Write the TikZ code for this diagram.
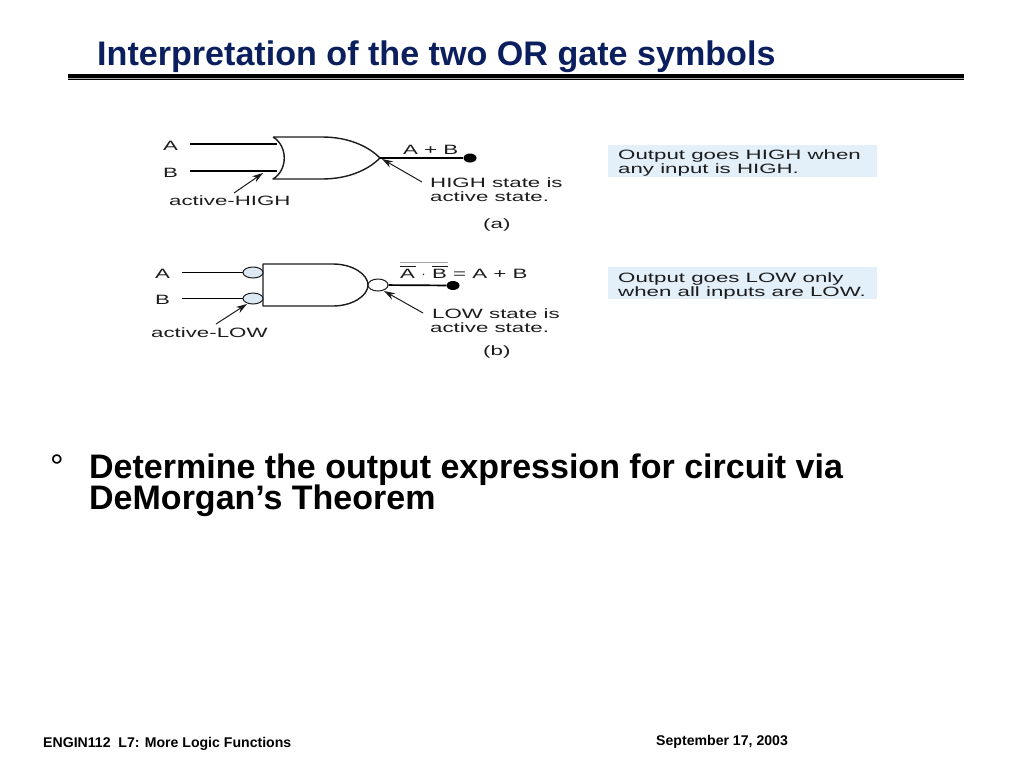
\documentclass[tikz,border=0pt]{standalone}
\usepackage{fontspec}
\setmainfont{Liberation Sans}
\newfontfamily\widefont[FakeStretch=1.65]{Liberation Sans}
\usetikzlibrary{arrows.meta,shapes.geometric}
\definecolor{titleblue}{HTML}{0B1F5E}
\definecolor{boxblue}{HTML}{E3F0FA}
\definecolor{bubbleblue}{HTML}{DCE9F3}
\definecolor{inkgrey}{HTML}{1C1C1C}
\tikzset{
  x=1pt,y=-1pt,
  titletext/.style={anchor=base west,inner sep=0pt,text=titleblue,font=\fontsize{34.1}{34.1}\selectfont\bfseries},
  bodytext/.style={anchor=base west,inner sep=0pt,text=black,font=\fontsize{34}{34}\selectfont\bfseries},
  foottext/.style={anchor=base west,inner sep=0pt,text=black,font=\fontsize{14.1}{14.1}\selectfont\bfseries},
  gatelabel/.style={anchor=base west,inner sep=0pt,text=inkgrey,font=\widefont\fontsize{13.5}{13.5}\selectfont},
  gateshape/.style={draw=inkgrey,line width=1.4pt,line join=round},
  wire/.style={draw=black,line width=1.7pt},
  pointer/.style={draw=inkgrey,line width=1pt,-{Stealth[length=11pt,width=7pt]}},
  bubblein/.style={ellipse,draw=inkgrey,line width=1pt,fill=bubbleblue,minimum width=20pt,minimum height=11pt,inner sep=0pt},
  bubbleout/.style={ellipse,draw=inkgrey,line width=1pt,fill=white,minimum width=20pt,minimum height=12pt,inner sep=0pt},
  enddot/.style={ellipse,fill=black,minimum width=13pt,minimum height=9pt,inner sep=0pt},
  notebox/.style={anchor=north west,fill=boxblue,minimum width=269pt,minimum height=32pt,inner sep=0pt},
}
\begin{document}
\begin{tikzpicture}
\useasboundingbox[fill=white] (0,0) rectangle (1024,768);
% title
\node[titletext] (title) at (97,65) {Interpretation of the two OR gate symbols};
\fill[black] (68,73.5) rectangle (964,77.5);
\fill[gray!70] (68,77.5) rectangle (964,78.5);
\fill[black] (68,78.5) rectangle (964,80);
% gate (a)
\coordinate (orA) at (277,144);
\coordinate (orB) at (277,171);
\coordinate (orTip) at (380,158);
\draw[gateshape] (273,137) -- (322,137) .. controls (348,137) and (368,146) .. (orTip)
  .. controls (368,170) and (348,179) .. (322,179) -- (273,179)
  .. controls (288,170) and (288,146) .. (273,137);
\node[gatelabel] (a1) at (163,150) {A};
\node[gatelabel] (b1) at (163,177) {B};
\coordinate (a1w) at (190,144);
\coordinate (b1w) at (190,171);
\draw[wire] (a1w) -- (orA);
\draw[wire] (b1w) -- (orB);
\node[enddot] (dot1) at (470,158) {};
\draw[wire] (orTip) -- (dot1);
\node[gatelabel] (sum1) at (403,154) {A + B};
\node[gatelabel] (hi1) at (430,187) {HIGH state is};
\node[gatelabel] (hi2) at (430,201) {active state.};
\node[gatelabel] (capa) at (483,228) {(a)};
\node[gatelabel] (acth) at (169,205) {active-HIGH};
\coordinate (pa1) at (234,193);
\coordinate (pa2) at (263,173);
\coordinate (pa3) at (422,182);
\coordinate (pa4) at (382,159);
\draw[pointer] (pa1) -- (pa2);
\draw[pointer] (pa3) -- (pa4);
% gate (b)
\draw[gateshape] (263,264) -- (333,264) .. controls (352,264) and (368,274) .. (368,285)
  .. controls (368,296) and (352,306) .. (333,306) -- (263,306) -- cycle;
\node[bubblein] (inA) at (253,272.5) {};
\node[bubblein] (inB) at (253,298.5) {};
\node[bubbleout] (out) at (378,285) {};
\node[gatelabel] (a2) at (155,278) {A};
\node[gatelabel] (b2) at (155,304) {B};
\coordinate (a2w) at (182,272.5);
\coordinate (b2w) at (182,298.5);
\draw[wire] (a2w) -- (inA);
\draw[wire,line width=1.2pt] (b2w) -- (inB);
\node[enddot] (dot2) at (453,285.5) {};
\draw[wire] (out) -- (dot2);
\node[gatelabel] (eq) at (400,278) {A\makebox[17pt]{$\cdot$}B = A + B};
\draw[gray!70,line width=0.9pt] (400,262) -- (448,262);
\draw[inkgrey,line width=0.8pt] (400,266.5) -- (416,266.5);
\draw[inkgrey,line width=0.8pt] (432,266.5) -- (448,266.5);
\node[gatelabel] (lo1) at (432,318) {LOW state is};
\node[gatelabel] (lo2) at (430,332) {active state.};
\node[gatelabel] (capb) at (483,355) {(b)};
\node[gatelabel] (actl) at (151,337) {active-LOW};
\coordinate (pb1) at (216,324);
\coordinate (pb2) at (247,304);
\coordinate (pb3) at (423,313);
\coordinate (pb4) at (384,291);
\draw[pointer] (pb1) -- (pb2);
\draw[pointer] (pb3) -- (pb4);
% note boxes
\node[notebox] (box1) at (608,145) {};
\node[notebox] (box2) at (608,267) {};
\node[gatelabel] (n1) at (618,159) {Output goes HIGH when};
\node[gatelabel] (n2) at (618,173) {any input is HIGH.};
\node[gatelabel] (n3) at (618,282) {Output goes LOW only};
\node[gatelabel] (n4) at (618,296) {when all inputs are LOW.};
% body
\node[anchor=base west,inner sep=0pt,font=\fontsize{34}{34}\selectfont] (bullet) at (50,478) {°};
\node[bodytext] (l1) at (89,478) {Determine the output expression for circuit via};
\node[bodytext] (l2) at (89,509) {DeMorgan’s Theorem};
% footer
\node[foottext] (f1) at (43,747) {ENGIN112\ \ L7: More Logic Functions};
\node[foottext] (f2) at (656,745) {September 17, 2003};
\end{tikzpicture}
\end{document}
